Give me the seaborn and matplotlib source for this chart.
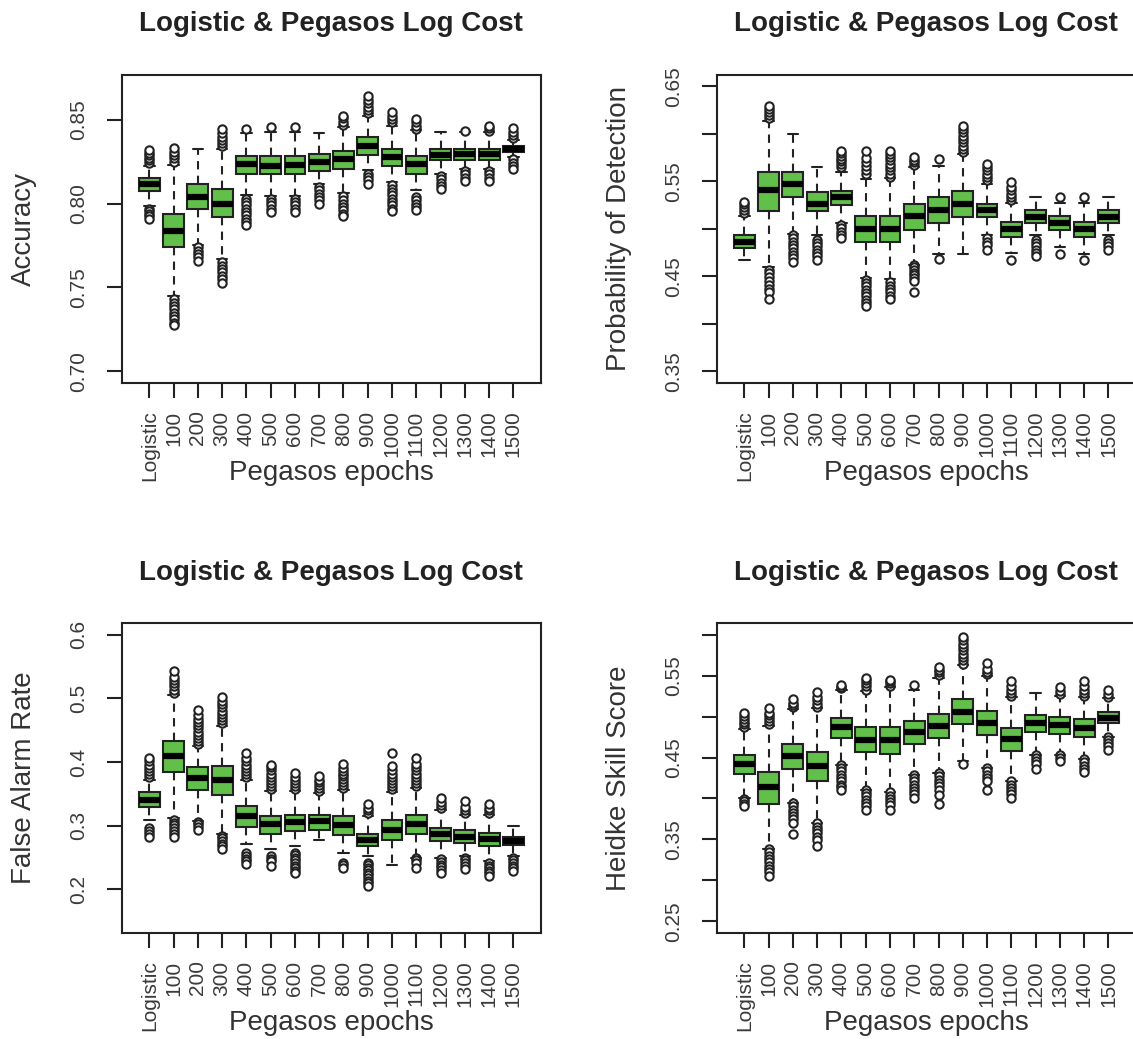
import numpy as np
import pandas as pd
import matplotlib.pyplot as plt
import seaborn as sns

epochs = ['Logistic', '100', '200', '300', '400', '500', '600', '700', '800',
          '900', '1000', '1100', '1200', '1300', '1400', '1500']

## Accuracy (top left) - five number summary
acc_lo = [0.7987, 0.745, 0.7756, 0.7671, 0.8052, 0.8046, 0.8046, 0.8117, 0.8062, 0.820, 0.8131, 0.8082, 0.818, 0.821, 0.821, 0.8279]
acc_q1 = [0.8078, 0.7740, 0.7967, 0.7920, 0.8180, 0.8180, 0.8180, 0.8196, 0.8210, 0.8293, 0.8224, 0.8180, 0.8259, 0.8259, 0.8259, 0.8309]
acc_med = [0.8115, 0.7839, 0.8038, 0.8000, 0.8234, 0.8228, 0.8230, 0.8249, 0.8265, 0.8344, 0.8279, 0.8234, 0.8293, 0.8295, 0.8295, 0.8324]
acc_q3 = [0.8151, 0.7940, 0.8117, 0.8086, 0.8283, 0.8283, 0.8283, 0.8295, 0.8314, 0.8397, 0.8328, 0.8283, 0.8328, 0.8328, 0.8328, 0.8342]
acc_hi = [0.8224, 0.8230, 0.8328, 0.8328, 0.8421, 0.8427, 0.8427, 0.8421, 0.8457, 0.8526, 0.8466, 0.8437, 0.8427, 0.8427, 0.8427, 0.8378]
acc_out = [
    [0.8245, 0.826, 0.8275, 0.829, 0.8305, 0.832, 0.797, 0.7955, 0.794, 0.7925, 0.791],
    [0.825, 0.827, 0.829, 0.831, 0.833, 0.743, 0.741, 0.739, 0.737, 0.735, 0.733, 0.731, 0.729, 0.7275],
    [0.774, 0.772, 0.770, 0.768, 0.766],
    [0.8345, 0.8365, 0.838, 0.840, 0.842, 0.8445, 0.765, 0.763, 0.761, 0.759, 0.757, 0.755, 0.7525],
    [0.8445, 0.803, 0.801, 0.799, 0.797, 0.795, 0.793, 0.791, 0.789, 0.787],
    [0.8455, 0.803, 0.801, 0.799, 0.797, 0.795],
    [0.8455, 0.803, 0.801, 0.799, 0.797, 0.795],
    [0.810, 0.808, 0.806, 0.804, 0.802, 0.800],
    [0.847, 0.849, 0.851, 0.8525, 0.8045, 0.8025, 0.800, 0.798, 0.796, 0.794, 0.7925],
    [0.854, 0.856, 0.858, 0.860, 0.862, 0.8645, 0.818, 0.816, 0.814, 0.812],
    [0.8485, 0.8505, 0.8525, 0.8545, 0.811, 0.809, 0.807, 0.805, 0.803, 0.801, 0.799, 0.797, 0.7955],
    [0.8445, 0.8465, 0.8485, 0.8505, 0.804, 0.802, 0.800, 0.798, 0.7965],
    [0.8165, 0.8145, 0.8125, 0.8105, 0.8085],
    [0.8435, 0.8195, 0.8175, 0.8155, 0.8135],
    [0.8435, 0.845, 0.8465, 0.8195, 0.8175, 0.8155, 0.8135],
    [0.839, 0.841, 0.843, 0.845, 0.8265, 0.8245, 0.8225, 0.821],
]

## Probability of Detection (top right)
pod_lo = [0.4675, 0.4599, 0.4946, 0.4936, 0.5058, 0.4484, 0.4467, 0.4623, 0.4738, 0.4738, 0.4936, 0.4745, 0.4936, 0.4807, 0.4738, 0.4936]
pod_q1 = [0.4797, 0.5186, 0.5336, 0.5186, 0.5256, 0.4866, 0.4866, 0.4988, 0.5058, 0.5127, 0.5127, 0.4919, 0.5058, 0.4988, 0.4919, 0.5058]
pod_med = [0.4866, 0.5405, 0.5468, 0.5259, 0.5336, 0.4998, 0.4998, 0.5134, 0.5197, 0.5266, 0.5197, 0.4995, 0.5127, 0.5058, 0.4995, 0.5127]
pod_q3 = [0.4936, 0.5596, 0.5596, 0.5388, 0.5398, 0.5134, 0.5134, 0.5266, 0.5336, 0.5398, 0.5266, 0.5068, 0.5197, 0.5134, 0.5068, 0.5197]
pod_hi = [0.5137, 0.6135, 0.5996, 0.5655, 0.5596, 0.5527, 0.5537, 0.5655, 0.5666, 0.5787, 0.5468, 0.5273, 0.5336, 0.5273, 0.5273, 0.5336]
pod_out = [
    [0.517, 0.520, 0.523, 0.526, 0.528],
    [0.617, 0.620, 0.623, 0.626, 0.629, 0.457, 0.453, 0.449, 0.445, 0.441, 0.437, 0.433, 0.4265],
    [0.4935, 0.490, 0.4865, 0.483, 0.4795, 0.476, 0.4725, 0.469, 0.4655],
    [0.4885, 0.485, 0.4815, 0.478, 0.4745, 0.471, 0.4675],
    [0.565, 0.568, 0.571, 0.574, 0.577, 0.580, 0.582, 0.504, 0.5005, 0.497, 0.4935, 0.490],
    [0.558, 0.562, 0.566, 0.570, 0.5745, 0.582, 0.4465, 0.443, 0.4395, 0.436, 0.4325, 0.429, 0.4255, 0.422, 0.419],
    [0.5545, 0.558, 0.5615, 0.565, 0.5685, 0.572, 0.5755, 0.579, 0.582, 0.4435, 0.440, 0.4365, 0.433, 0.4295, 0.426],
    [0.567, 0.570, 0.573, 0.5755, 0.462, 0.4595, 0.457, 0.454, 0.451, 0.448, 0.445, 0.4335],
    [0.5735, 0.468],
    [0.5805, 0.584, 0.5875, 0.591, 0.5945, 0.598, 0.6015, 0.605, 0.608],
    [0.551, 0.5545, 0.558, 0.5615, 0.565, 0.568, 0.490, 0.4865, 0.483, 0.478],
    [0.530, 0.5335, 0.537, 0.5405, 0.544, 0.549, 0.4675],
    [0.4885, 0.485, 0.4815, 0.478, 0.4745, 0.471],
    [0.5335, 0.4738],
    [0.5335, 0.4675],
    [0.4885, 0.485, 0.4815, 0.478],
]

## False Alarm Rate (bottom left)
far_lo = [0.3098, 0.3124, 0.3072, 0.2863, 0.2706, 0.2627, 0.268, 0.2784, 0.2575, 0.2523, 0.2376, 0.2497, 0.2497, 0.2523, 0.2444, 0.2523]
far_q1 = [0.3297, 0.3841, 0.3558, 0.349, 0.2978, 0.2878, 0.2915, 0.2941, 0.2847, 0.268, 0.2784, 0.2863, 0.2758, 0.2732, 0.268, 0.269]
far_med = [0.3412, 0.4102, 0.3752, 0.3715, 0.315, 0.302, 0.3056, 0.3072, 0.3004, 0.2784, 0.2941, 0.303, 0.2863, 0.2826, 0.2795, 0.2758]
far_q3 = [0.3532, 0.4327, 0.3924, 0.3935, 0.3307, 0.3161, 0.3176, 0.3176, 0.3161, 0.2873, 0.3098, 0.3176, 0.2967, 0.2931, 0.2889, 0.2826]
far_hi = [0.3725, 0.5059, 0.4248, 0.4573, 0.3725, 0.3542, 0.3542, 0.3516, 0.3569, 0.315, 0.3527, 0.3595, 0.3255, 0.3176, 0.3176, 0.2993]
far_out = [
    [0.376, 0.381, 0.386, 0.391, 0.396, 0.401, 0.406, 0.2965, 0.292, 0.2875, 0.283],
    [0.509, 0.514, 0.519, 0.524, 0.529, 0.534, 0.5425, 0.3095, 0.305, 0.3005, 0.296, 0.2915, 0.287, 0.282],
    [0.428, 0.433, 0.438, 0.443, 0.448, 0.453, 0.458, 0.463, 0.468, 0.4735, 0.4825, 0.306, 0.302, 0.298, 0.294],
    [0.461, 0.466, 0.471, 0.476, 0.481, 0.486, 0.491, 0.496, 0.503, 0.284, 0.280, 0.276, 0.272, 0.268, 0.263],
    [0.376, 0.381, 0.386, 0.391, 0.396, 0.401, 0.406, 0.4145, 0.2575, 0.253, 0.2485, 0.244, 0.2395],
    [0.357, 0.362, 0.367, 0.372, 0.377, 0.382, 0.387, 0.392, 0.396, 0.252, 0.248, 0.244, 0.2365],
    [0.357, 0.362, 0.367, 0.372, 0.377, 0.383, 0.2575, 0.2535, 0.2495, 0.2455, 0.2415, 0.2375, 0.2335, 0.2295, 0.2255],
    [0.3545, 0.359, 0.3635, 0.368, 0.3725, 0.3775],
    [0.3595, 0.364, 0.3685, 0.373, 0.3775, 0.382, 0.3865, 0.391, 0.3975, 0.2415, 0.238, 0.234],
    [0.3205, 0.3245, 0.3285, 0.3335, 0.242, 0.238, 0.234, 0.230, 0.226, 0.222, 0.218, 0.214, 0.2095, 0.2055],
    [0.357, 0.362, 0.367, 0.372, 0.377, 0.382, 0.387, 0.3935, 0.4145],
    [0.362, 0.367, 0.372, 0.377, 0.382, 0.387, 0.392, 0.397, 0.4065, 0.2495, 0.2455, 0.2415, 0.234],
    [0.328, 0.3325, 0.337, 0.3435, 0.247, 0.243, 0.239, 0.235, 0.231, 0.226],
    [0.3205, 0.325, 0.3295, 0.3385, 0.2495, 0.2455, 0.2415, 0.2375, 0.2315],
    [0.3205, 0.3245, 0.3285, 0.3335, 0.2415, 0.2375, 0.2335, 0.2295, 0.2255, 0.221],
    [0.2495, 0.2455, 0.2415, 0.2375, 0.2335, 0.229],
]

## Heidke Skill Score (bottom right)
hss_lo = [0.4007, 0.3387, 0.3946, 0.3695, 0.4412, 0.4108, 0.4075, 0.429, 0.431, 0.4452, 0.4371, 0.4209, 0.4533, 0.4533, 0.4481, 0.4756]
hss_q1 = [0.4302, 0.3938, 0.4359, 0.4209, 0.4744, 0.4562, 0.4545, 0.4663, 0.4736, 0.4906, 0.4776, 0.4582, 0.4817, 0.4788, 0.4756, 0.4918]
hss_med = [0.4424, 0.4136, 0.4513, 0.4391, 0.487, 0.4716, 0.4716, 0.4809, 0.4886, 0.506, 0.4918, 0.4724, 0.4926, 0.4894, 0.4865, 0.4987]
hss_q3 = [0.4525, 0.4319, 0.4663, 0.4562, 0.4987, 0.4878, 0.4878, 0.4947, 0.5028, 0.5214, 0.5068, 0.4857, 0.5019, 0.4999, 0.4971, 0.5052]
hss_hi = [0.4845, 0.4886, 0.5088, 0.51, 0.5323, 0.5315, 0.5356, 0.5331, 0.5477, 0.5627, 0.5494, 0.5234, 0.5283, 0.525, 0.5234, 0.5222]
hss_out = [
    [0.487, 0.4905, 0.494, 0.4975, 0.501, 0.5048, 0.3994, 0.3965, 0.3935, 0.3905],
    [0.491, 0.4945, 0.498, 0.5015, 0.505, 0.510, 0.3379, 0.334, 0.330, 0.326, 0.322, 0.318, 0.314, 0.310, 0.3054],
    [0.5113, 0.514, 0.517, 0.521, 0.3946, 0.3905, 0.3865, 0.3825, 0.3785, 0.3745, 0.3705, 0.3561],
    [0.5121, 0.516, 0.520, 0.524, 0.5303, 0.3695, 0.3655, 0.3615, 0.3575, 0.3535, 0.3495, 0.3419],
    [0.5344, 0.5364, 0.5384, 0.4412, 0.437, 0.433, 0.429, 0.425, 0.421, 0.417, 0.4135, 0.4108],
    [0.5331, 0.537, 0.541, 0.5447, 0.5477, 0.4108, 0.4065, 0.4025, 0.3985, 0.3945, 0.3905, 0.3857],
    [0.5372, 0.5405, 0.5435, 0.5453, 0.4075, 0.4035, 0.3995, 0.3955, 0.3915, 0.3857],
    [0.5384, 0.429, 0.425, 0.421, 0.417, 0.413, 0.409, 0.405, 0.4007],
    [0.5506, 0.554, 0.5575, 0.5607, 0.431, 0.427, 0.423, 0.419, 0.415, 0.410, 0.4045, 0.3938],
    [0.5648, 0.569, 0.573, 0.577, 0.581, 0.585, 0.589, 0.593, 0.5972, 0.4424],
    [0.5518, 0.555, 0.5585, 0.5656, 0.4371, 0.433, 0.429, 0.425, 0.421, 0.4108],
    [0.525, 0.529, 0.533, 0.537, 0.5437, 0.4209, 0.417, 0.413, 0.409, 0.405, 0.4007],
    [0.4533, 0.4495, 0.4455, 0.4415, 0.4359],
    [0.5275, 0.531, 0.5356, 0.4533, 0.4495, 0.4452],
    [0.525, 0.529, 0.533, 0.537, 0.5437, 0.4481, 0.444, 0.440, 0.436, 0.4318],
    [0.5242, 0.528, 0.5323, 0.4756, 0.4715, 0.4675, 0.4635, 0.4594],
]

title = 'Logistic & Pegasos Log Cost'
green = '#62c04a'
dark = '#222222'

sns.set_style('white')
plt.rcParams['font.family'] = ['Liberation Sans', 'DejaVu Sans']
plt.rcParams['axes.edgecolor'] = dark
plt.rcParams['axes.linewidth'] = 1.5


def draw_panel(ax, lo, q1, med, q3, hi, out, ylabel, ylim, yticks, ylabels):
    ## five values per epoch -> quartiles land exactly on q1/med/q3, whiskers on lo/hi
    box_df = pd.DataFrame({
        'epoch': np.repeat(epochs, 5),
        'value': np.column_stack([lo, q1, med, q3, hi]).ravel(),
    })
    sns.boxplot(data=box_df, x='epoch', y='value', order=epochs, ax=ax,
                whis=(0, 100), width=0.86, color=green, saturation=1,
                linecolor=dark, linewidth=1.5, showfliers=False,
                medianprops=dict(linewidth=4.5, color='black'),
                whiskerprops=dict(linestyle=(0, (4, 3))))
    out_df = pd.DataFrame([(e, v) for e, vals in zip(epochs, out) for v in vals],
                          columns=['epoch', 'value'])
    sns.stripplot(data=out_df, x='epoch', y='value', order=epochs, ax=ax,
                  jitter=False, color='white', edgecolor=dark, linewidth=1.5,
                  size=6, zorder=3)

    r = ylim[1] - ylim[0]
    ax.set_ylim(ylim[0] - 0.04 * r, ylim[1] + 0.04 * r)
    ax.set_xlim(-1.14, 16.14)
    ax.set_xticks(range(len(epochs)))
    ax.set_xticklabels(epochs, rotation=90)
    ax.set_yticks(yticks)
    ax.set_yticklabels(ylabels, rotation=90, va='center')
    ax.set_xlabel('')
    ax.set_ylabel('')
    for sp in ax.spines.values():
        sp.set_visible(True)
        sp.set_color(dark)
        sp.set_linewidth(1.5)
    ax.tick_params(axis='both', direction='out', length=10.5, width=1.5,
                   color=dark, labelsize=15, labelcolor='#3a3a3a',
                   bottom=True, left=True)
    ax.tick_params(axis='y', pad=14)
    ax.tick_params(axis='x', pad=9.5)
    ax.set_title(title, fontsize=20, fontweight='bold', pad=31.5, color='#222222')
    ax.text(-0.2337, 0.5, ylabel, transform=ax.transAxes, rotation=90,
            ha='center', va='center', fontsize=20, color='#333333')
    ax.text(0.5, -0.316, 'Pegasos epochs', transform=ax.transAxes,
            ha='center', va='baseline', fontsize=20, color='#333333')


fig = plt.figure(figsize=(11.33, 10.39), dpi=100)
ax1 = fig.add_axes([0.1074, 0.6317, 0.3701, 0.2961])
ax2 = fig.add_axes([0.6326, 0.6317, 0.3701, 0.2961])
ax3 = fig.add_axes([0.1074, 0.1023, 0.3701, 0.2978])
ax4 = fig.add_axes([0.6326, 0.1023, 0.3701, 0.2978])

draw_panel(ax1, acc_lo, acc_q1, acc_med, acc_q3, acc_hi, acc_out, 'Accuracy',
           (0.70, 0.87), [0.70, 0.75, 0.80, 0.85], ['0.70', '0.75', '0.80', '0.85'])
draw_panel(ax2, pod_lo, pod_q1, pod_med, pod_q3, pod_hi, pod_out, 'Probability of Detection',
           (0.35, 0.65), [0.35, 0.40, 0.45, 0.50, 0.55, 0.60, 0.65],
           ['0.35', '', '0.45', '', '0.55', '', '0.65'])
draw_panel(ax3, far_lo, far_q1, far_med, far_q3, far_hi, far_out, 'False Alarm Rate',
           (0.15, 0.60), [0.2, 0.3, 0.4, 0.5, 0.6], ['0.2', '0.3', '0.4', '0.5', '0.6'])
draw_panel(ax4, hss_lo, hss_q1, hss_med, hss_q3, hss_hi, hss_out, 'Heidke Skill Score',
           (0.25, 0.60), [0.25, 0.30, 0.35, 0.40, 0.45, 0.50, 0.55, 0.60],
           ['0.25', '', '0.35', '', '0.45', '', '0.55', ''])

fig.savefig('out.png', dpi=100)
